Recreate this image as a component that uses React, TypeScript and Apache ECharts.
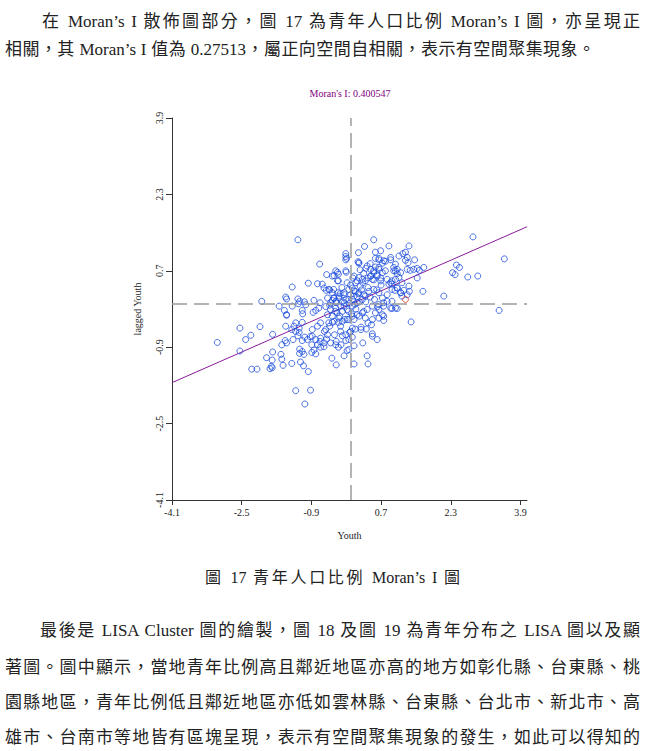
import React, { useEffect, useRef } from "react";
import * as echarts from "echarts";

// Moran's I statistic (slope of the regression line)
const MORAN_I = 0.400547;
const TITLE = "Moran's I: 0.400547";
const X_NAME = "Youth";
const Y_NAME = "lagged Youth";
const X_TICKS = [-4.1, -2.5, -0.9, 0.7, 2.3, 3.9];
const Y_TICKS = [-4.1, -2.5, -0.9, 0.7, 2.3, 3.9];

// [Youth, lagged Youth]
const upperLeft: number[][] = [
  [-1.21, 1.35], [-0.11, 1.06], [-0.11, 1.0], [-0.11, 0.93], [-0.71, 0.84], [-0.55, 0.62], [-0.38, 0.6],
  [-0.3, 0.67], [-0.3, 0.49], [-0.1, 0.67], [-0.97, 0.44], [-1.34, 0.36], [-0.76, 0.43], [-0.65, 0.42],
  [-0.61, 0.34], [-0.56, 0.29], [-0.48, 0.3], [-0.39, 0.31], [-0.29, 0.24], [-0.24, 0.22], [-2.04, 0.06],
  [-1.49, 0.15], [-1.47, 0.11], [-1.64, -0.04], [-1.52, -0.13], [-1.47, -0.22], [-1.21, 0.11], [-1.17, 0.06],
  [-1.2, 0.01], [-1.34, -0.04], [-1.06, 0.05], [-1.03, -0.01], [-1.11, -0.13], [-0.84, 0.08], [-0.7, 0.03],
  [-0.73, -0.08], [-0.86, -0.17], [-0.8, -0.13], [-0.57, -0.05], [-0.48, -0.02], [-0.42, 0.08], [-0.38, 0.13],
  [-0.33, 0.03], [-0.27, 0.13], [-0.19, 0.05], [-0.15, -0.04], [-0.11, 0.1], [-1.1, -0.2], [-1.47, -0.23],
];

const upperRight: number[][] = [
  [0.53, 1.35], [2.81, 1.41], [0.32, 1.21], [0.88, 1.22], [0.18, 1.08], [0.57, 1.09], [0.69, 1.12],
  [1.34, 1.22], [1.11, 1.01], [1.2, 1.06], [1.26, 1.09], [1.3, 0.98], [1.26, 0.92], [1.32, 0.87],
  [1.47, 0.93], [0.19, 0.87], [0.65, 0.96], [0.73, 0.86], [0.8, 0.9], [0.92, 0.93], [3.53, 0.95],
  [0.57, 0.78], [0.65, 0.73], [0.53, 0.66], [0.46, 0.59], [0.5, 0.52], [0.61, 0.62], [0.69, 0.55],
  [0.99, 0.77], [1.03, 0.7], [1.07, 0.64], [1.11, 0.56], [1.03, 0.52], [0.95, 0.49], [0.88, 0.42],
  [1.3, 0.73], [1.37, 0.71], [1.45, 0.73], [1.53, 0.75], [1.58, 0.71], [1.68, 0.77], [1.53, 0.55],
  [2.34, 0.66], [2.4, 0.62], [2.5, 0.77], [2.43, 0.82], [2.69, 0.57], [2.92, 0.59], [1.66, 0.27],
  [2.14, 0.17], [1.34, 0.38], [1.35, 0.27], [1.3, 0.2], [1.22, 0.29], [1.18, 0.17], [1.15, 0.24],
  [1.07, 0.34], [1.02, 0.29], [0.95, 0.42], [3.41, -0.13], [1.07, -0.09], [0.95, -0.09], [0.84, 0.06],
  [0.76, -0.04], [0.65, -0.11], [0.57, -0.18], [0.73, -0.22],
];

const lowerRight: number[][] = [
  [-0.04, -0.32], [-0.02, -0.59], [-0.04, -0.74], [-0.08, -0.97], [0.08, -0.87], [0.11, -0.52],
  [0.24, -0.48], [0.24, -0.53], [0.36, -0.52], [0.4, -0.39], [0.48, -0.43], [0.5, -0.62], [0.5, -0.67],
  [0.61, -0.74], [0.28, -0.81], [0.38, -1.08], [0.08, -1.25], [0.4, -1.25], [0.76, -0.34], [1.39, -0.37],
];

const lowerLeft: number[][] = [
  [-3.06, -0.8], [-2.54, -0.5], [-2.54, -0.98], [-2.41, -0.74], [-2.29, -0.65], [-2.08, -0.47],
  [-2.27, -1.36], [-2.15, -1.36], [-1.79, -0.63], [-1.79, -1.0], [-1.93, -1.12], [-1.8, -1.17],
  [-1.82, -1.3], [-1.85, -1.35], [-1.8, -1.33], [-1.6, -1.05], [-1.58, -1.15], [-1.55, -1.28],
  [-1.49, -0.46], [-1.35, -0.53], [-1.32, -0.74], [-1.47, -0.81], [-1.5, -0.76], [-1.58, -0.85],
  [-1.35, -1.24], [-1.26, -1.81], [-0.92, -1.8], [-1.05, -2.09], [-1.26, -0.57], [-1.18, -0.59],
  [-1.21, -0.66], [-1.05, -0.69], [-0.99, -0.74], [-1.11, -0.76], [-1.17, -0.94], [-1.11, -0.99],
  [-1.07, -1.05], [-1.17, -1.03], [-1.15, -1.21], [-1.08, -1.29], [-0.97, -1.41], [-0.89, -0.85],
  [-0.84, -0.96], [-0.89, -1.01], [-0.8, -1.04], [-0.88, -0.67], [-0.8, -0.74], [-0.69, -0.71],
  [-0.61, -0.81], [-0.69, -0.9], [-0.55, -0.73], [-0.46, -0.81], [-0.37, -0.64], [-0.33, -0.78],
  [-0.28, -0.9], [-0.22, -0.85], [-0.19, -0.66], [-0.11, -0.76], [-0.43, -1.13], [-0.33, -1.27],
  [-0.15, -1.08], [-0.04, -0.95], [0.04, -0.69], [0.0, -0.57], [-1.3, -0.46], [-1.18, -0.5],
  [-1.26, -0.39], [-1.11, -0.38], [-0.88, -0.53], [-0.76, -0.46], [-0.69, -0.39], [-0.57, -0.53],
  [-0.48, -0.46], [-0.42, -0.38], [-0.28, -0.38], [-0.23, -0.46], [-0.13, -0.32], [0.04, -0.5],
  [0.08, -0.32], [-0.6, -0.57], [-0.53, -0.64], [-0.23, -0.57], [-0.11, -0.64], [-0.34, -0.85],
  [-0.61, -0.89], [-0.76, -0.85], [-0.93, -0.68], [-0.7, -0.78],
];

const centre: number[][] = [
  [-0.09, 0.96], [0.17, 0.89], [0.19, 0.86], [0.57, 0.96], [0.65, 0.93], [0.76, 0.91], [0.92, 0.98],
  [1.03, 0.84], [1.07, 0.73], [0.99, 0.7], [1.15, 0.66], [0.38, 0.8], [0.46, 0.73], [0.53, 0.7],
  [0.65, 0.77], [0.73, 0.66], [0.8, 0.7], [0.61, 0.59], [0.46, 0.59], [0.53, 0.51], [0.69, 0.49],
  [0.84, 0.52], [0.92, 0.45], [-0.34, 0.7], [-0.28, 0.63], [-0.42, 0.59], [-0.28, 0.49], [-0.11, 0.7],
  [0.08, 0.59], [0.19, 0.56], [0.15, 0.49], [0.27, 0.52], [0.34, 0.49], [-0.5, 0.31], [-0.42, 0.24],
  [-0.53, 0.13], [-0.38, 0.13], [-0.46, 0.03], [-0.34, 0.06], [-0.27, 0.17], [-0.15, 0.24], [-0.04, 0.31],
  [0.04, 0.34], [0.11, 0.27], [0.19, 0.24], [0.08, 0.17], [-0.04, 0.1], [-0.15, 0.03], [-0.23, -0.04],
  [-0.34, -0.08], [-0.46, -0.11], [-0.53, -0.22], [-0.42, -0.25], [-0.31, -0.18], [-0.19, -0.15],
  [-0.08, -0.11], [0.04, -0.04], [0.15, 0.03], [0.27, 0.1], [0.34, 0.17], [0.42, 0.27], [0.53, 0.31],
  [0.65, 0.24], [0.73, 0.13], [0.76, 0.03], [0.65, -0.01], [0.5, -0.04], [0.38, -0.11], [0.27, -0.18],
  [0.15, -0.22], [0.04, -0.25], [-0.08, -0.32], [-0.19, -0.36], [-0.27, -0.29], [-0.38, -0.36],
  [-0.5, -0.39], [0.34, -0.29], [0.5, -0.32], [0.65, -0.29], [0.76, -0.25], [0.92, -0.08], [1.03, -0.08],
  [0.95, 0.06], [0.84, 0.2], [0.95, 0.31], [1.07, 0.34], [1.15, 0.24], [1.18, 0.45], [0.0, 0.2],
  [0.05, 0.1], [0.1, 0.0], [0.15, 0.15], [0.2, 0.05], [0.25, 0.3], [0.3, 0.2], [0.35, 0.05], [0.4, 0.35],
  [0.45, 0.15], [0.0, 0.4], [0.05, 0.55], [0.12, 0.45], [0.22, 0.38], [-0.05, -0.15], [0.02, -0.2],
  [0.12, -0.1], [0.2, -0.25], [0.3, -0.15], [-0.15, 0.2], [-0.2, 0.35], [-0.08, 0.45], [0.3, 0.65],
  [0.22, 0.72], [0.4, 0.55], [0.6, 0.3], [0.7, 0.4], [0.55, 0.1], [0.62, -0.05], [-0.02, 0.02],
  [0.08, 0.28], [0.18, 0.22], [0.28, 0.45], [0.35, 0.75], [0.45, 0.85], [-0.25, -0.25], [-0.35, -0.15],
];

// the single highlighted (red) observation
const selected: number[][] = [[1.26, 0.1]];

const X_MIN = -4.1;
const X_MAX = 4.05;
const Y_MIN = -4.1;
const Y_MAX = 3.9;

const paragraph1 = [
  "在 Moran’s I 散佈圖部分，圖 17 為青年人口比例 Moran’s I 圖，亦呈現正",
  "相關，其 Moran’s I 值為 0.27513，屬正向空間自相關，表示有空間聚集現象。",
];
const caption = "圖 17 青年人口比例 Moran’s I 圖";
const paragraph2 = [
  "最後是 LISA Cluster 圖的繪製，圖 18 及圖 19 為青年分布之 LISA 圖以及顯",
  "著圖。圖中顯示，當地青年比例高且鄰近地區亦高的地方如彰化縣、台東縣、桃",
  "園縣地區，青年比例低且鄰近地區亦低如雲林縣、台東縣、台北市、新北市、高",
  "雄市、台南市等地皆有區塊呈現，表示有空間聚集現象的發生，如此可以得知的",
];

const TEXT_FONT = '"Liberation Serif", "Noto Sans CJK TC", serif';
const AXIS_FONT = "Liberation Serif";

function Line(props: { text: string; left: number; top: number; width: number; justify?: boolean; size?: number }) {
  const { text, left, top, width, justify = true, size = 17 } = props;
  return (
    <div
      style={{
        position: "absolute",
        left,
        top,
        width,
        height: 24,
        lineHeight: "24px",
        fontSize: size,
        fontFamily: TEXT_FONT,
        color: "#222",
        whiteSpace: "nowrap",
        textAlign: justify ? "justify" : "left",
        textAlignLast: justify ? "justify" : "left",
      } as React.CSSProperties}
    >
      {text}
    </div>
  );
}

export default function App() {
  const ref = useRef<HTMLDivElement>(null);

  useEffect(() => {
    if (!ref.current) return;
    const chart = echarts.init(ref.current, undefined, { renderer: "svg" });
    const points = [...upperLeft, ...upperRight, ...lowerRight, ...lowerLeft, ...centre];
    const option: any = {
      animation: false,
      backgroundColor: "transparent",
      graphic: [
        {
          type: "text",
          x: 350,
          y: 93,
          style: {
            text: TITLE,
            fill: "#800080",
            font: `10px "${AXIS_FONT}"`,
            align: "center",
            verticalAlign: "middle",
          },
        },
      ],
      grid: { left: 172, top: 118, width: 355, height: 382, containLabel: false },
      xAxis: {
        type: "value",
        min: X_MIN,
        max: X_MAX,
        name: X_NAME,
        nameLocation: "middle",
        nameGap: 30,
        nameTextStyle: { fontFamily: AXIS_FONT, fontSize: 10, color: "#222" },
        splitLine: { show: false },
        axisLine: { show: true, onZero: false, lineStyle: { color: "#333", width: 1 } },
        axisTick: { show: true, length: 5, customValues: X_TICKS, lineStyle: { color: "#333" } },
        axisLabel: {
          customValues: X_TICKS,
          formatter: (v: number) => v.toFixed(1),
          fontFamily: AXIS_FONT,
          fontSize: 10,
          color: "#222",
          margin: 7,
        },
      },
      yAxis: {
        type: "value",
        min: Y_MIN,
        max: Y_MAX,
        name: Y_NAME,
        nameLocation: "middle",
        nameGap: 30,
        nameTextStyle: { fontFamily: AXIS_FONT, fontSize: 10, color: "#222" },
        splitLine: { show: false },
        axisLine: { show: true, onZero: false, lineStyle: { color: "#333", width: 1 } },
        axisTick: { show: true, length: 6, customValues: Y_TICKS, lineStyle: { color: "#333" } },
        axisLabel: {
          customValues: Y_TICKS,
          formatter: (v: number) => v.toFixed(1),
          rotate: 90,
          fontFamily: AXIS_FONT,
          fontSize: 10,
          color: "#222",
          margin: 8,
        },
      },
      series: [
        {
          type: "line",
          data: [
            [X_MIN, X_MIN * MORAN_I],
            [X_MAX, X_MAX * MORAN_I],
          ],
          showSymbol: false,
          symbol: "none",
          lineStyle: { color: "#8a1a9a", width: 1 },
          silent: true,
          z: 3,
          markLine: {
            silent: true,
            symbol: "none",
            label: { show: false },
            lineStyle: { color: "#9a9a9a", width: 1.5, type: [15, 7] },
            data: [{ xAxis: 0 }, { yAxis: 0 }],
          },
        },
        {
          type: "scatter",
          data: points,
          symbol: "circle",
          symbolSize: 6,
          itemStyle: { color: "rgba(255,255,255,0)", borderColor: "#1f50dc", borderWidth: 1 },
          z: 4,
        },
        {
          type: "scatter",
          data: selected,
          symbol: "circle",
          symbolSize: 6,
          itemStyle: { color: "rgba(255,255,255,0)", borderColor: "#e0403a", borderWidth: 1 },
          z: 5,
        },
      ],
    };
    chart.setOption(option);
    return () => chart.dispose();
  }, []);

  return (
    <div style={{ position: "absolute", left: 0, top: 0, width: 665, height: 751, background: "#fff", overflow: "hidden" }}>
      <div ref={ref} style={{ position: "absolute", left: 0, top: 0, width: 665, height: 560 }} />
      <Line text={paragraph1[0]} left={42} top={10} width={598} />
      <Line text={paragraph1[1]} left={5} top={38} width={590} />
      <Line text={caption} left={205} top={566} width={255} size={16} />
      <Line text={paragraph2[0]} left={40} top={619} width={600} />
      <Line text={paragraph2[1]} left={5} top={656} width={635} />
      <Line text={paragraph2[2]} left={5} top={691} width={635} />
      <Line text={paragraph2[3]} left={5} top={726} width={635} />
    </div>
  );
}
